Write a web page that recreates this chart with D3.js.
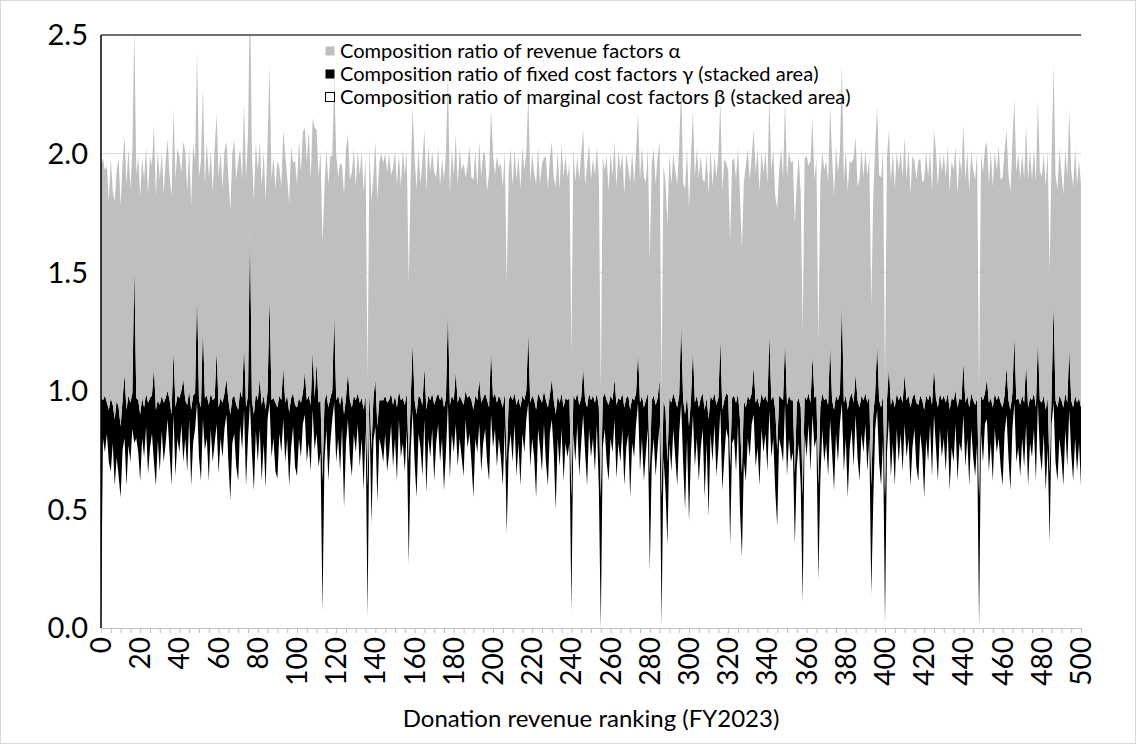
<!DOCTYPE html>
<html><head><meta charset="utf-8">
<script src="https://cdn.jsdelivr.net/npm/d3@7"></script>
<style>body{margin:0;background:#fff}text{font-family:Lato,"Open Sans",sans-serif;fill:#000}</style>
</head><body>
<svg id="c" width="1136" height="744"></svg>
<script>
// ranks 0..500 (category index = ranking)
const ranks = Array.from({length:501},(_,i)=>i);
const xTickLabels = [0,20,40,60,80,100,120,140,160,180,200,220,240,260,280,300,320,340,360,380,400,420,440,460,480,500];
const yTickLabels = [0,0.5,1.0,1.5,2.0,2.5];

// β: composition ratio of marginal cost factors (stacked, bottom)
const beta = [
0.00,0.80,0.74,0.82,0.70,0.66,0.78,0.60,0.72,0.64, 0.55,0.75,0.80,0.60,0.77,0.70,0.84,0.78,0.80,0.74,
0.62,0.80,0.72,0.85,0.65,0.76,0.82,0.70,0.60,0.79, 0.66,0.83,0.70,0.78,0.88,0.74,0.60,0.90,0.64,0.80,
0.74,0.86,0.70,0.80,0.66,0.88,0.60,0.78,0.84,0.95, 0.72,0.62,0.88,0.75,0.80,0.62,0.84,0.70,0.78,0.86,
0.65,0.80,0.72,0.84,0.90,0.70,0.54,0.78,0.82,0.68, 0.62,0.86,0.75,0.92,0.60,0.80,0.95,0.74,0.58,0.83,
0.70,0.84,0.62,0.78,0.59,0.88,0.95,0.72,0.80,0.66, 0.63,0.82,0.74,0.88,0.70,0.80,0.60,0.76,0.85,0.68,
0.64,0.80,0.72,0.86,0.90,0.70,0.78,0.66,0.92,0.75, 0.82,0.68,0.74,0.07,0.70,0.84,0.62,0.78,0.88,0.95,
0.70,0.80,0.66,0.85,0.51,0.78,0.88,0.72,0.64,0.82, 0.74,0.86,0.68,0.80,0.58,0.84,0.05,0.90,0.44,0.79,
0.85,0.53,0.80,0.76,0.70,0.82,0.66,0.74,0.86,0.68, 0.80,0.62,0.88,0.72,0.78,0.66,0.84,0.27,0.74,0.92,
0.70,0.55,0.82,0.76,0.64,0.88,0.57,0.80,0.72,0.84, 0.62,0.78,0.86,0.70,0.80,0.58,0.74,0.95,0.63,0.82,
0.74,0.86,0.68,0.80,0.72,0.64,0.88,0.76,0.82,0.70, 0.55,0.80,0.74,0.86,0.66,0.78,0.84,0.70,0.62,0.90,
0.76,0.84,0.68,0.80,0.72,0.60,0.85,0.40,0.74,0.82, 0.70,0.86,0.64,0.78,0.60,0.82,0.74,0.88,0.95,0.68,
0.80,0.72,0.55,0.84,0.76,0.66,0.86,0.70,0.60,0.82, 0.88,0.74,0.50,0.80,0.68,0.84,0.62,0.78,0.72,0.78,
0.07,0.82,0.70,0.86,0.64,0.78,0.90,0.74,0.60,0.84, 0.72,0.80,0.66,0.86,0.59,0.00,0.76,0.84,0.70,0.62,
0.80,0.74,0.88,0.63,0.78,0.70,0.84,0.60,0.76,0.82, 0.55,0.78,0.72,0.86,0.95,0.66,0.80,0.62,0.74,0.84,
0.24,0.70,0.80,0.64,0.76,0.86,0.01,0.72,0.58,0.35, 0.78,0.66,0.84,0.72,0.60,0.82,0.95,0.70,0.50,0.80,
0.45,0.74,0.90,0.68,0.80,0.62,0.76,0.84,0.55,0.78, 0.47,0.82,0.70,0.86,0.64,0.76,0.92,0.58,0.72,0.84,
0.80,0.35,0.78,0.80,0.66,0.86,0.50,0.30,0.70,0.62, 0.80,0.72,0.86,0.90,0.68,0.76,0.60,0.84,0.74,0.82,
0.66,0.92,0.72,0.80,0.58,0.43,0.80,0.76,0.70,0.95, 0.64,0.80,0.70,0.74,0.35,0.68,0.78,0.60,0.11,0.82,
0.72,0.86,0.66,0.90,0.76,0.80,0.20,0.62,0.84,0.70, 0.78,0.64,0.88,0.74,0.58,0.82,0.70,0.86,0.95,0.66,
0.80,0.55,0.76,0.84,0.68,0.90,0.72,0.62,0.82,0.74, 0.86,0.66,0.80,0.14,0.53,0.84,0.92,0.70,0.60,0.80,
0.02,0.74,0.88,0.64,0.78,0.60,0.84,0.70,0.82,0.66, 0.86,0.72,0.80,0.60,0.76,0.84,0.68,0.62,0.82,0.74,
0.55,0.80,0.70,0.86,0.64,0.90,0.76,0.62,0.84,0.72, 0.80,0.66,0.84,0.58,0.76,0.70,0.86,0.62,0.78,0.74,
0.90,0.68,0.80,0.60,0.84,0.72,0.64,0.78,0.01,0.82, 0.70,0.86,0.88,0.66,0.78,0.62,0.84,0.74,0.80,0.68,
0.60,0.82,0.90,0.72,0.58,0.84,0.95,0.70,0.76,0.64, 0.80,0.68,0.86,0.60,0.78,0.72,0.84,0.62,0.95,0.74,
0.66,0.82,0.58,0.76,0.36,0.86,0.95,0.70,0.62,0.80, 0.72,0.60,0.84,0.68,0.92,0.74,0.62,0.80,0.66,0.78,
0.60];

// γ: composition ratio of fixed cost factors (stacked on β)
const gamma = [
0.97,0.16,0.24,0.13,0.22,0.31,0.16,0.28,0.24,0.29, 0.30,0.21,0.27,0.32,0.21,0.25,0.15,0.75,0.17,0.22,
0.28,0.17,0.21,0.14,0.30,0.21,0.16,0.40,0.32,0.17, 0.28,0.15,0.25,0.19,0.12,0.22,0.30,0.27,0.29,0.18,
0.23,0.14,0.35,0.16,0.28,0.12,0.32,0.20,0.15,0.48, 0.24,0.31,0.40,0.22,0.18,0.32,0.15,0.26,0.19,0.31,
0.28,0.17,0.23,0.15,0.15,0.26,0.36,0.19,0.16,0.26, 0.30,0.14,0.22,0.28,0.33,0.18,0.75,0.22,0.32,0.16,
0.26,0.21,0.32,0.20,0.33,0.12,0.45,0.24,0.17,0.29, 0.30,0.16,0.22,0.22,0.25,0.18,0.31,0.21,0.14,0.26,
0.29,0.17,0.23,0.13,0.18,0.26,0.20,0.28,0.25,0.22, 0.30,0.27,0.22,0.55,0.25,0.15,0.31,0.19,0.12,0.38,
0.26,0.18,0.28,0.14,0.39,0.19,0.20,0.24,0.29,0.16, 0.22,0.13,0.27,0.17,0.34,0.14,0.55,0.10,0.31,0.18,
0.20,0.32,0.16,0.20,0.26,0.16,0.29,0.22,0.13,0.26, 0.18,0.31,0.12,0.24,0.19,0.28,0.15,0.43,0.22,0.28,
0.26,0.35,0.16,0.21,0.30,0.22,0.35,0.18,0.24,0.15, 0.32,0.19,0.13,0.26,0.18,0.35,0.23,0.40,0.31,0.16,
0.22,0.22,0.27,0.18,0.24,0.30,0.12,0.21,0.16,0.26, 0.37,0.18,0.22,0.19,0.29,0.19,0.15,0.26,0.31,0.28,
0.21,0.15,0.27,0.18,0.24,0.33,0.14,0.30,0.22,0.16, 0.26,0.13,0.30,0.19,0.33,0.16,0.22,0.12,0.30,0.27,
0.18,0.24,0.37,0.15,0.21,0.29,0.14,0.26,0.33,0.16, 0.17,0.22,0.40,0.18,0.27,0.15,0.31,0.19,0.24,0.19,
0.48,0.16,0.26,0.13,0.30,0.19,0.20,0.22,0.33,0.15, 0.24,0.18,0.29,0.13,0.34,0.55,0.21,0.15,0.26,0.32,
0.18,0.22,0.17,0.31,0.19,0.26,0.15,0.33,0.21,0.16, 0.37,0.19,0.24,0.13,0.22,0.29,0.18,0.31,0.22,0.15,
0.41,0.26,0.18,0.30,0.21,0.19,0.54,0.24,0.34,0.35, 0.19,0.29,0.15,0.24,0.33,0.16,0.34,0.26,0.40,0.18,
0.40,0.22,0.28,0.27,0.18,0.31,0.21,0.15,0.37,0.19, 0.41,0.16,0.26,0.13,0.30,0.21,0.30,0.34,0.24,0.15,
0.18,0.33,0.19,0.18,0.29,0.13,0.38,0.35,0.26,0.31, 0.18,0.24,0.13,0.20,0.27,0.21,0.33,0.15,0.22,0.16,
0.29,0.32,0.24,0.18,0.34,0.32,0.18,0.21,0.26,0.27, 0.30,0.18,0.26,0.22,0.30,0.27,0.19,0.33,0.44,0.16,
0.24,0.13,0.29,0.25,0.21,0.18,0.40,0.31,0.15,0.26, 0.19,0.30,0.32,0.22,0.34,0.16,0.26,0.13,0.43,0.29,
0.18,0.37,0.21,0.15,0.27,0.17,0.24,0.31,0.16,0.22, 0.13,0.29,0.18,0.46,0.37,0.15,0.28,0.26,0.33,0.18,
0.53,0.22,0.22,0.30,0.19,0.33,0.15,0.26,0.16,0.29, 0.21,0.24,0.18,0.33,0.21,0.15,0.27,0.32,0.16,0.22,
0.37,0.18,0.26,0.13,0.30,0.20,0.21,0.31,0.15,0.24, 0.18,0.29,0.15,0.34,0.21,0.26,0.14,0.31,0.19,0.22,
0.22,0.27,0.18,0.33,0.15,0.24,0.30,0.19,0.54,0.16, 0.26,0.13,0.17,0.29,0.19,0.31,0.15,0.22,0.18,0.27,
0.33,0.16,0.20,0.24,0.34,0.15,0.28,0.26,0.21,0.30, 0.18,0.27,0.26,0.33,0.19,0.24,0.15,0.31,0.27,0.22,
0.29,0.16,0.34,0.21,0.29,0.13,0.42,0.26,0.31,0.18, 0.24,0.33,0.15,0.27,0.26,0.22,0.31,0.18,0.29,0.19,
0.33];

// α: composition ratio of revenue factors (stacked on top)
const alpha = [
0.98,1.02,0.95,1.00,0.88,1.01,0.90,0.92,0.97,1.05, 0.93,1.00,1.00,0.95,1.04,0.90,1.02,1.00,0.94,1.03,
0.92,1.01,0.96,1.04,0.88,1.02,0.97,1.02,0.90,1.05, 0.95,1.03,0.88,1.00,1.06,0.94,0.92,1.02,0.96,1.04,
1.02,0.92,1.00,1.05,0.90,1.03,0.86,1.06,0.98,1.00, 0.94,1.04,1.00,0.90,1.07,0.96,1.02,0.88,1.05,1.00,
0.97,1.04,0.90,1.02,1.00,0.94,0.86,1.03,1.08,0.95, 1.05,1.02,0.92,1.01,0.96,1.10,1.00,1.04,0.90,1.06,
0.97,1.00,0.92,1.03,0.88,1.05,0.97,0.93,1.02,0.90, 1.04,0.96,0.90,1.00,1.05,0.92,0.88,1.06,0.97,1.03,
0.94,1.08,0.97,1.10,1.03,1.00,1.12,0.95,0.98,1.14, 0.98,0.95,1.05,1.00,0.90,1.03,0.94,1.02,0.99,0.99,
1.04,0.92,1.02,0.96,0.92,1.05,1.00,0.93,0.99,1.04, 0.90,1.02,0.96,1.04,0.92,1.00,0.45,1.03,1.05,0.94,
1.00,0.96,1.00,1.04,1.00,1.02,0.97,1.04,0.92,1.00, 1.03,0.94,1.00,0.90,1.05,0.97,1.02,0.75,0.94,1.00,
1.02,0.95,1.04,0.90,1.03,1.00,0.92,1.05,0.96,1.02, 0.98,0.93,1.04,0.90,1.00,0.96,1.03,0.99,0.88,1.04,
0.95,1.00,0.92,1.04,0.97,1.02,0.90,0.98,1.05,0.94, 0.97,1.03,0.90,1.00,0.95,1.04,1.00,0.88,0.99,1.00,
1.03,0.92,1.04,0.96,1.00,0.93,1.02,0.75,0.97,1.04, 0.90,1.03,0.95,1.02,0.92,1.05,0.97,1.00,1.00,0.93,
1.02,0.96,0.95,1.04,0.90,1.01,0.98,1.03,0.92,1.00, 1.00,0.94,0.96,1.03,0.90,1.05,0.97,1.02,0.94,0.99,
0.60,1.04,0.92,1.00,0.95,1.03,1.00,0.91,1.02,1.05, 0.93,1.00,0.96,1.04,0.97,0.45,1.02,0.94,1.03,0.90,
1.02,0.95,1.00,0.92,1.04,0.97,1.01,0.90,1.03,0.96, 0.96,1.04,0.91,1.02,1.00,0.94,1.05,0.97,0.92,1.03,
0.90,1.00,1.04,0.93,1.02,1.00,0.45,0.99,0.96,1.00, 1.03,0.92,1.01,0.97,0.94,1.05,1.00,0.92,0.95,1.04,
0.92,1.02,1.00,0.95,1.04,0.97,1.02,0.90,0.96,1.03, 0.95,1.04,0.90,1.00,0.96,1.03,1.00,0.92,1.02,0.97,
0.95,0.95,1.00,1.00,0.94,1.04,0.95,0.95,0.92,1.02, 1.04,0.93,1.00,1.00,0.97,1.05,0.91,1.02,0.96,1.03,
0.92,1.00,0.97,1.04,0.90,1.02,0.95,1.05,0.94,1.00, 0.96,1.03,1.00,1.01,1.05,0.93,1.02,0.90,0.70,1.00,
1.03,0.96,1.02,1.00,0.92,1.00,0.60,0.95,1.02,0.97, 1.00,0.94,1.00,1.03,0.90,1.05,0.96,1.02,1.00,0.93,
1.04,0.92,1.00,0.97,1.03,1.00,0.90,0.96,1.04,0.94, 1.02,0.96,1.00,0.75,0.92,1.04,1.00,0.95,0.97,1.03,
0.50,1.02,1.00,0.94,1.04,0.92,1.02,0.97,1.03,0.95, 1.00,0.93,1.04,0.90,1.02,0.98,0.94,1.03,1.00,0.92,
0.97,1.03,0.94,1.02,0.90,1.00,1.04,0.93,1.01,0.96, 1.02,0.95,1.04,0.92,1.00,0.97,1.03,0.90,1.02,0.96,
1.00,0.94,1.03,0.91,1.02,0.97,0.95,1.04,0.45,1.02, 0.96,1.03,1.00,0.92,1.04,0.93,1.02,0.97,1.05,0.94,
0.97,1.03,1.00,0.95,0.92,1.05,1.00,0.96,1.03,0.95, 1.02,0.94,1.00,0.96,1.04,0.93,1.03,0.95,1.00,0.97,
0.95,1.02,0.94,1.04,0.85,1.00,1.00,0.95,0.92,1.04, 0.96,0.90,1.03,0.95,1.00,0.97,0.93,1.04,0.92,1.00,
0.94];

const legendLabels = [
  "Composition ratio of revenue factors α",
  "Composition ratio of fixed cost factors γ (stacked area)",
  "Composition ratio of marginal cost factors β (stacked area)"
];
const xTitle = "Donation revenue ranking (FY2023)";

const W=1136,H=744;
const svg=d3.select("#c");
svg.append("rect").attr("x",0.5).attr("y",0.5).attr("width",W-1).attr("height",H-1)
  .attr("fill","#fff").attr("stroke","#d9d9d9");

const x=d3.scaleLinear().domain([0,500]).range([101,1081]);
const y=d3.scaleLinear().domain([0,2.5]).range([628,35]);

// gridlines
svg.append("g").selectAll("line").data(yTickLabels.slice(1,5)).join("line")
  .attr("x1",x(0)).attr("x2",x(500)).attr("y1",d=>y(d)).attr("y2",d=>y(d))
  .attr("stroke","#d9d9d9").attr("stroke-width",1);

const rows=ranks.map((r,i)=>({rank:r,beta:beta[i],gamma:gamma[i],alpha:alpha[i]}));
const stack=d3.stack().keys(["beta","gamma","alpha"])(rows);
svg.append("clipPath").attr("id","clip").append("rect")
  .attr("x",x(0)).attr("y",y(2.5)).attr("width",x(500)-x(0)).attr("height",y(0)-y(2.5));
const area=d3.area().x(d=>x(d.data.rank)).y0(d=>y(d[0])).y1(d=>y(d[1]));
const fills={beta:"#ffffff",gamma:"#000000",alpha:"#bfbfbf"};
svg.append("g").attr("clip-path","url(#clip)").selectAll("path").data(stack).join("path")
  .attr("d",area).attr("fill",d=>fills[d.key]);

// top border line & left axis
svg.append("line").attr("x1",x(0)).attr("x2",x(500)).attr("y1",y(2.5)).attr("y2",y(2.5))
  .attr("stroke","#404040").attr("stroke-width",1.5);
svg.append("line").attr("x1",x(0)).attr("x2",x(0)).attr("y1",y(2.5)).attr("y2",y(0))
  .attr("stroke","#000").attr("stroke-width",1.5);

// x axis
const xAxis=svg.append("g").attr("transform",`translate(0,${y(0)})`)
  .call(d3.axisBottom(x).tickValues(d3.range(0,501,5)).tickSize(5).tickFormat(""));
xAxis.select(".domain").attr("stroke","#bfbfbf");
xAxis.selectAll(".tick line").attr("stroke","#bfbfbf");
svg.append("g").selectAll("text").data(xTickLabels).join("text")
  .attr("transform",d=>`translate(${x(d)},${y(0)+9}) rotate(-90)`)
  .attr("text-anchor","end").attr("dy","0.36em").attr("font-size",28).text(d=>d);

// y labels
svg.append("g").selectAll("text").data(yTickLabels).join("text")
  .attr("x",88).attr("y",d=>y(d)).attr("dy","0.36em").attr("text-anchor","end")
  .attr("font-size",29).text(d=>d.toFixed(1));

svg.append("text").attr("x",591).attr("y",727).attr("text-anchor","middle")
  .attr("font-size",24).text(xTitle);

// legend
const lg=svg.append("g");
const lfill=["#bfbfbf","#000","#fff"];
const probe=lg.append("text").attr("font-size",20).text(legendLabels[2]);
const lfs=20*511/probe.node().getComputedTextLength();
probe.remove();
legendLabels.forEach((t,i)=>{
  const cy=51+i*23;
  lg.append("rect").attr("x",325.5).attr("y",cy-4.5).attr("width",9).attr("height",9)
    .attr("fill",lfill[i]).attr("stroke",i===2?"#000":"none").attr("stroke-width",1);
  lg.append("text").attr("x",340).attr("y",cy).attr("dy","0.36em").attr("font-size",lfs).text(t);
});
</script>
</body></html>
